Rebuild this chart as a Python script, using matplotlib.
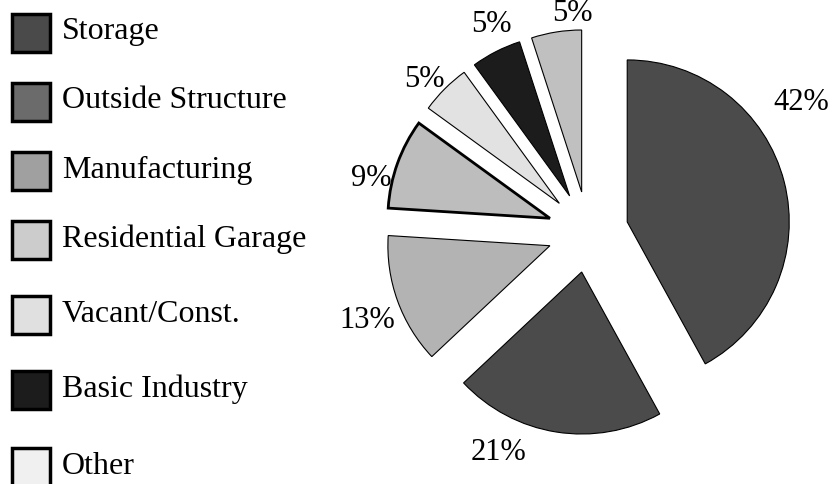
import numpy as np
import matplotlib
matplotlib.use("Agg")
import matplotlib.pyplot as plt
from matplotlib.patches import Rectangle

# ---- data ----
legend_labels = ["Storage", "Outside Structure", "Manufacturing", "Residential Garage",
                 "Vacant/Const.", "Basic Industry", "Other"]
legend_colors = ["#4a4a4a", "#6b6b6b", "#a0a0a0", "#cccccc", "#e0e0e0", "#1c1c1c", "#f0f0f0"]

pie_values = [42, 21, 13, 9, 5, 5, 5]
pie_labels = ["42%", "21%", "13%", "9%", "5%", "5%", "5%"]
pie_colors = ["#4b4b4b", "#4b4b4b", "#b3b3b3", "#bdbdbd", "#e2e2e2", "#1c1c1c", "#c0c0c0"]

plt.rcParams['font.family'] = ['Liberation Serif', 'DejaVu Serif']

W, H = 838, 484
fig = plt.figure(figsize=(W / 100, H / 100), dpi=100)
ax = fig.add_axes([0, 0, 1, 1])

center = (588, H - 232)
R = 162
explode = [0.25 * R] * len(pie_values)
edge_w = [0.8, 0.8, 0.8, 2.0, 0.8, 0.8, 0.8]

wedges, _ = ax.pie(pie_values, colors=pie_colors, startangle=90, counterclock=False,
                   center=center, radius=R, explode=explode, frame=True,
                   wedgeprops=dict(edgecolor="black", linewidth=0.8))
for w, lw in zip(wedges, edge_w):
    w.set_linewidth(lw)

# percentage labels
label_nudge = [17, -13, 2, 6, 2, -2, -5]
label_rad = [1.54, 1.47, 1.47, 1.38, 1.38, 1.41, 1.355]
for w, lab, dn, lr in zip(wedges, pie_labels, label_nudge, label_rad):
    ang = np.deg2rad((w.theta1 + w.theta2) / 2 + dn)
    ax.text(center[0] + lr * R * np.cos(ang), center[1] + lr * R * np.sin(ang), lab,
            ha="center", va="center", fontsize=22)

# legend drawn manually
box = 38
row_y = [33, 102, 171, 240, 315, 390, 467]
for yy, lab, col in zip(row_y, legend_labels, legend_colors):
    yc = H - yy
    ax.add_patch(Rectangle((12, yc - box / 2), box, box, facecolor=col,
                           edgecolor="black", linewidth=2.5, clip_on=False))
    ax.text(62, yc + 1, lab, ha="left", va="center", fontsize=23)

ax.set_xlim(0, W)
ax.set_ylim(0, H)
ax.set_aspect("equal")
ax.axis("off")

fig.savefig("out.png", dpi=100)
